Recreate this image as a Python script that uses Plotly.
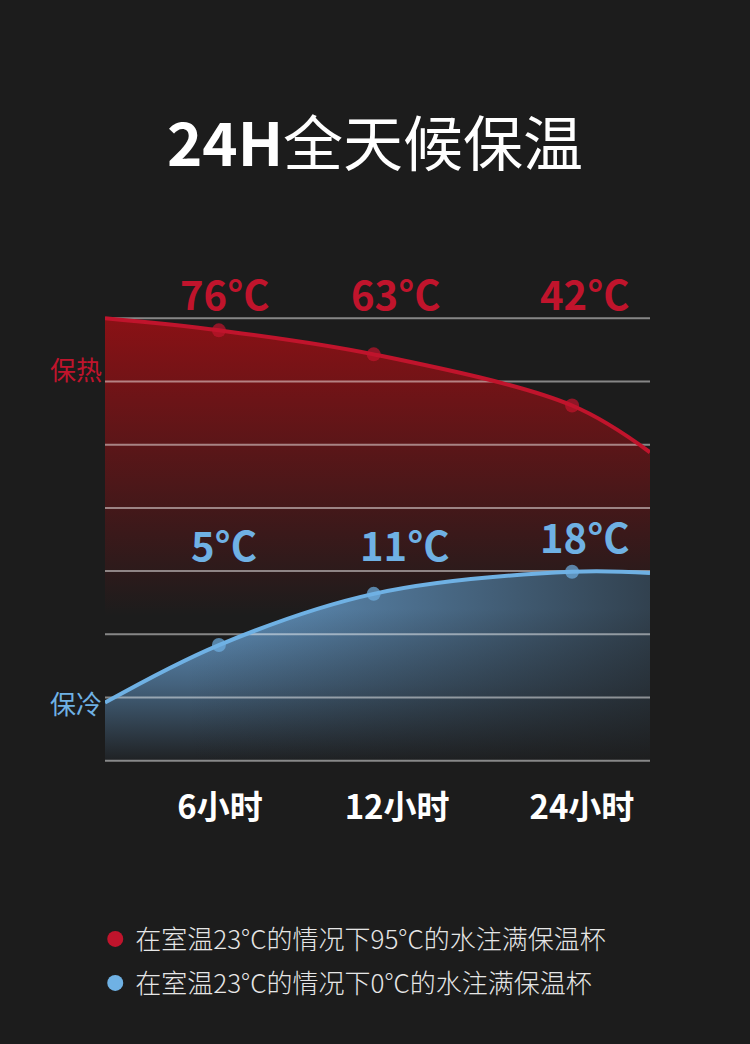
import plotly.graph_objects as go

# 数据
periods = ['6小时', '12小时', '24小时']
hot_temps = [76, 63, 42]
cold_temps = [5, 11, 18]

# 曲线在图中的相对高度（网格 0-7），首尾为曲线两端
curve_x = [0, 2.09, 4.93, 8.57, 10]
hot_curve = [7.0, 6.81, 6.43, 5.62, 4.88]
cold_curve = [0.92, 1.83, 2.64, 2.99, 2.97]
period_ticks = [2.11, 5.36, 8.75]

hot_note = '在室温23°C的情况下95°C的水注满保温杯'
cold_note = '在室温23°C的情况下0°C的水注满保温杯'

BG = '#1c1c1c'
RED = '#c0142c'
BLUE = '#6fb1e4'
FONT = 'Noto Sans CJK SC'
grid_levels = list(range(8))

fig = go.Figure()

# 保热填充
fig.add_trace(go.Scatter(
    x=curve_x, y=hot_curve, mode='lines', fill='tozeroy',
    line=dict(width=0, shape='spline', color=RED),
    fillgradient=dict(type='vertical', start=2.3, stop=7,
                      colorscale=[[0, 'rgba(138,17,21,0)'], [1, 'rgba(138,17,21,1)']]),
    hoverinfo='skip', showlegend=False))

# 保冷填充
fig.add_trace(go.Scatter(
    x=curve_x, y=cold_curve, mode='lines', fill='tozeroy',
    line=dict(width=0, shape='spline', color=BLUE),
    fillgradient=dict(type='vertical', start=0, stop=2.4,
                      colorscale=[[0, 'rgba(95,145,190,0.05)'], [0.5, 'rgba(95,145,190,0.6)'],
                                  [1, 'rgba(100,152,198,1)']]),
    hoverinfo='skip', showlegend=False))
fig.add_trace(go.Scatter(
    x=curve_x, y=cold_curve, mode='lines', fill='tozeroy',
    line=dict(width=0, shape='spline', color=BG),
    fillgradient=dict(type='horizontal', start=1.5, stop=10,
                      colorscale=[[0, 'rgba(28,28,28,0)'], [1, 'rgba(28,28,28,0.7)']]),
    hoverinfo='skip', showlegend=False))

# 网格线（画在填充之上）
gx, gy = [], []
for lv in grid_levels:
    gx += [0, 10, None]
    gy += [lv, lv, None]
fig.add_trace(go.Scatter(x=gx, y=gy, mode='lines',
                         line=dict(color='rgba(255,255,255,0.47)', width=2),
                         hoverinfo='skip', showlegend=False))

# 曲线与标记
for ys, col in [(hot_curve, RED), (cold_curve, BLUE)]:
    fig.add_trace(go.Scatter(
        x=curve_x, y=ys, mode='lines+markers',
        line=dict(color=col, width=4, shape='spline'),
        marker=dict(color=col, size=[0, 14, 14, 14, 0], line=dict(width=0)),
        cliponaxis=False, hoverinfo='skip', showlegend=False))

# 图例
fig.add_trace(go.Scatter(x=[None], y=[None], mode='markers', name=hot_note,
                         marker=dict(color=RED, size=16, line=dict(width=0)), legend='legend'))
fig.add_trace(go.Scatter(x=[None], y=[None], mode='markers', name=cold_note,
                         marker=dict(color=BLUE, size=16, line=dict(width=0)), legend='legend2'))

# 温度标注
hot_shift = [6, 22, 13]
cold_shift = [5, 31, 13]
cold_label_y = [3.43, 3.43, 3.56]
for i in range(3):
    fig.add_annotation(x=curve_x[i + 1], y=7, yshift=25, text='<b>%d°C</b>' % hot_temps[i],
                       xshift=hot_shift[i], showarrow=False,
                       font=dict(family=FONT, size=40, color=RED))
    fig.add_annotation(x=curve_x[i + 1], y=cold_label_y[i], text='<b>%d°C</b>' % cold_temps[i],
                       xshift=cold_shift[i], showarrow=False,
                       font=dict(family=FONT, size=40, color=BLUE))

fig.add_annotation(xref='paper', x=0, y=6.21, text='保热', xanchor='right', xshift=-1,
                   showarrow=False, font=dict(family=FONT, size=26, color=RED))
fig.add_annotation(xref='paper', x=0, y=0.92, text='保冷', xanchor='right', xshift=-1,
                   showarrow=False, font=dict(family=FONT, size=26, color=BLUE))

legend_style = dict(xref='container', yref='container', x=0.127, xanchor='left',
                    yanchor='middle', bgcolor='rgba(0,0,0,0)', borderwidth=0,
                    font=dict(family=FONT, size=26, color='#e6e6e6', weight=300))

fig.update_layout(
    width=750, height=1044,
    margin=dict(l=105, r=100, t=312, b=277, autoexpand=False),
    paper_bgcolor=BG, plot_bgcolor=BG,
    title=dict(text='<b>24H</b>全天候保温', x=0.5, xanchor='center',
               yref='container', y=1 - 145 / 1044, yanchor='middle',
               font=dict(family=FONT, size=60, color='white')),
    xaxis=dict(range=[0, 10], showgrid=False, zeroline=False, showline=False,
               tickvals=period_ticks, ticktext=['<b>%s</b>' % p for p in periods],
               ticks='outside', ticklen=11, tickcolor='rgba(0,0,0,0)',
               tickfont=dict(family=FONT, size=33, color='white')),
    yaxis=dict(range=[-0.1, 7.1], showgrid=False, zeroline=False, showline=False,
               showticklabels=False),
    legend=dict(y=1 - 939 / 1044, **legend_style),
    legend2=dict(y=1 - 983 / 1044, **legend_style),
    hovermode=False,
)

fig.write_html('out.html', config={'displayModeBar': False},
               post_script="document.body.style.margin='0';")
